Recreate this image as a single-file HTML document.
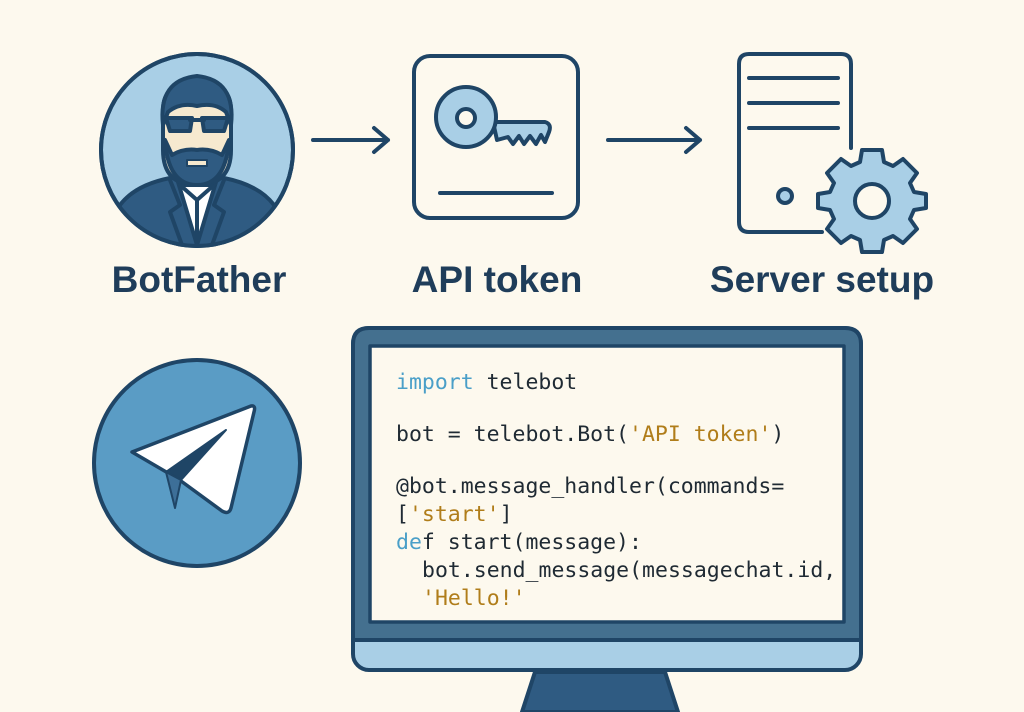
<!DOCTYPE html>
<html><head><meta charset="utf-8"><style>
html,body{margin:0;padding:0;background:#fdf9ee;}
svg{display:block}
</style></head><body>
<svg width="1024" height="712" viewBox="0 0 1024 712" xmlns="http://www.w3.org/2000/svg">
<rect width="1024" height="712" fill="#fdf9ee"/>
<g stroke="#1f4566" stroke-width="4" stroke-linecap="round" stroke-linejoin="round">
<!-- BotFather -->
<clipPath id="c1"><circle cx="197" cy="150" r="95"/></clipPath>
<circle cx="197" cy="150" r="96" fill="#a9cfe6"/>
<g clip-path="url(#c1)">
 <path d="M110 250 L120 205 Q135 185 170 178 L224 178 Q259 185 274 205 L284 250 Z" fill="#2f5b82"/>
 <path d="M178 182 L197 245 L216 182 Z" fill="#fff"/>
 <line x1="197" y1="200" x2="197" y2="245"/>
 <path d="M170 180 L180 205 L170 212 L182 245" fill="none"/>
 <path d="M224 180 L214 205 L224 212 L212 245" fill="none"/>
 <path d="M180 185 L197 200 L214 185" fill="none"/>
</g>
<rect x="183" y="160" width="28" height="25" fill="#f6e9cf"/>
<path d="M163 110 Q163 82 197 82 Q231 82 231 110 L231 150 Q231 185 197 185 Q163 185 163 150 Z" fill="#f6e9cf"/>
<path d="M163 125 Q158 80 197 76 Q236 80 231 125 L226 112 Q215 102 197 106 Q180 102 168 112 Z" fill="#2f5b82"/>
<path d="M165 140 Q168 185 197 185 Q226 185 229 140 L222 155 Q210 148 197 150 Q184 148 172 155 Z" fill="#2f5b82"/>
<rect x="187" y="160" width="20" height="6" fill="#f6e9cf" stroke-width="2"/>
<path d="M166 118 L192 118 L190 131 L170 131 Z M202 118 L228 118 L224 131 L204 131 Z" fill="#2f5b82"/>
<line x1="190" y1="120" x2="204" y2="120"/>
<circle cx="197" cy="150" r="96" fill="none"/>
<!-- arrows -->
<path d="M313 140 H388 M374 128 L388 140 L374 152" fill="none"/>
<path d="M608 140 H700 M686 128 L700 140 L686 152" fill="none"/>
<!-- API token -->
<rect x="414" y="56" width="164" height="162" rx="16" fill="none"/>
<path d="M493 122 L545 122 Q552 124 549 132 L545 142 L541 135 L536 144 L530 136 L524 144 L519 136 L513 144 L508 137 L497 140 Z" fill="#a9cfe6"/>
<circle cx="466" cy="117" r="30" fill="#a9cfe6"/>
<circle cx="466" cy="118" r="9" fill="#fdf9ee"/>
<line x1="440" y1="193" x2="552" y2="193"/>
<!-- server -->
<path d="M851 148 V64 Q851 54 841 54 H749 Q739 54 739 64 V222 Q739 232 749 232 H822" fill="none"/>
<path d="M749 78 H838 M749 103 H838 M749 128 H838" fill="none"/>
<circle cx="785" cy="196" r="7" fill="#a9cfe6"/>
<path id="gear" fill="#a9cfe6" d="M862 150 L882 150 L884 162 L893 166 L903 159 L917 173 L910 183 L914 192 L926 194 L926 208 L914 210 L910 219 L917 229 L903 243 L893 236 L884 240 L882 252 L862 252 L860 240 L851 236 L841 243 L827 229 L834 219 L830 210 L818 208 L818 194 L830 192 L834 183 L827 173 L841 159 L851 166 L860 162 Z"/>
<circle cx="872" cy="201" r="17" fill="#fdf9ee"/>
<!-- telegram -->
<circle cx="197" cy="463" r="103" fill="#5a9cc5"/>
<path d="M132 452 L251 406 Q256 405 254 412 L231 508 Q229 515 222 511 L181 481 L168 473 Z" fill="#fff" stroke-width="3.5"/>
<path d="M166 472 L226 430 L181 480 Z" fill="#1f4566" stroke-width="2"/>
<path d="M166 472 L175 508 L181 480 Z" fill="#3d6f98" stroke-width="2"/>
<!-- monitor -->
<path d="M535 672 L665 672 L678 712 L522 712 Z" fill="#2f5b82"/>
<rect x="353" y="328" width="508" height="342" rx="16" fill="#a9cfe6"/>
<path d="M353 640 V344 Q353 328 369 328 H845 Q861 328 861 344 V640 Z" fill="#44708f"/>
<line x1="353" y1="640" x2="861" y2="640"/>
<rect x="370" y="346" width="474" height="276" fill="#fdf9ee" stroke-width="3.5"/>
</g>
<g font-family="'Liberation Sans',sans-serif" font-weight="bold" font-size="37" fill="#1f3d5a" text-anchor="middle">
<text x="199" y="292">BotFather</text>
<text x="497" y="292">API token</text>
<text x="822" y="292">Server setup</text>
</g>
<g font-family="'DejaVu Sans Mono','Liberation Mono',monospace" font-size="21.5" fill="#1f2a33">
<text x="396" y="389"><tspan fill="#4a9fc8">import</tspan> telebot</text>
<text x="396" y="441">bot = telebot.Bot(<tspan fill="#b07d1a">'API token'</tspan>)</text>
<text x="396" y="493">@bot.message_handler(commands=</text>
<text x="396" y="521">[<tspan fill="#b07d1a">'start'</tspan>]</text>
<text x="396" y="549"><tspan fill="#4a9fc8">de</tspan>f start(message):</text>
<text x="422" y="577">bot.send_message(messagechat.id,</text>
<text x="422" y="605" fill="#b07d1a">'Hello!'</text>
</g>
</svg>
</body></html>
